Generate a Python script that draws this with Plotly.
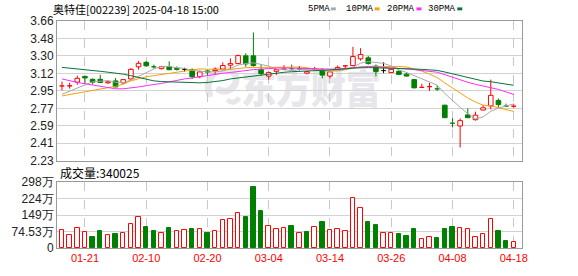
import base64
import plotly.graph_objects as go

# ---------------- data ----------------
dates = [
    "2025-01-16", "2025-01-17", "2025-01-20", "2025-01-21", "2025-01-22", "2025-01-23", "2025-01-24", "2025-01-27",
    "2025-02-05", "2025-02-06", "2025-02-07", "2025-02-10", "2025-02-11", "2025-02-12", "2025-02-13", "2025-02-14",
    "2025-02-17", "2025-02-18", "2025-02-19", "2025-02-20", "2025-02-21", "2025-02-24", "2025-02-25", "2025-02-26",
    "2025-02-27", "2025-02-28", "2025-03-03", "2025-03-04", "2025-03-05", "2025-03-06", "2025-03-07", "2025-03-10",
    "2025-03-11", "2025-03-12", "2025-03-13", "2025-03-14", "2025-03-17", "2025-03-18", "2025-03-19", "2025-03-20",
    "2025-03-21", "2025-03-24", "2025-03-25", "2025-03-26", "2025-03-27", "2025-03-28", "2025-03-31", "2025-04-01",
    "2025-04-02", "2025-04-03", "2025-04-07", "2025-04-08", "2025-04-09", "2025-04-10", "2025-04-11", "2025-04-14",
    "2025-04-15", "2025-04-16", "2025-04-17", "2025-04-18",
]
open_ = [2.995, 2.996, 3.034, 3.093, 3.063, 3.063, 3.027, 3.047, 3.027, 3.067,
         3.191, 3.237, 3.198, 3.172, 3.191, 3.175, 3.165, 3.162, 3.090, 3.149,
         3.152, 3.168, 3.208, 3.224, 3.303, 3.303, 3.165, 3.096, 3.145, 3.168,
         3.178, 3.172, 3.126, 3.168, 3.158, 3.096, 3.165, 3.201, 3.204, 3.273,
         3.283, 3.198, 3.152, 3.132, 3.145, 3.116, 3.060, 2.981, 2.988, 2.972,
         2.798, 2.621, 2.585, 2.699, 2.650, 2.749, 2.791, 2.847, 2.794, 2.788]
high = [3.040, 3.027, 3.100, 3.100, 3.073, 3.109, 3.047, 3.077, 3.067, 3.178,
        3.250, 3.250, 3.214, 3.201, 3.247, 3.195, 3.181, 3.175, 3.152, 3.162,
        3.185, 3.237, 3.277, 3.316, 3.329, 3.542, 3.214, 3.145, 3.162, 3.208,
        3.214, 3.198, 3.142, 3.191, 3.175, 3.145, 3.204, 3.204, 3.395, 3.382,
        3.303, 3.214, 3.237, 3.172, 3.155, 3.132, 3.063, 3.017, 3.027, 3.001,
        2.804, 2.663, 2.663, 2.765, 2.732, 2.801, 3.060, 2.867, 2.814, 2.811]
low = [2.949, 2.968, 3.008, 3.017, 3.011, 3.027, 3.017, 2.981, 3.014, 3.060,
       3.162, 3.191, 3.172, 3.165, 3.155, 3.152, 3.142, 3.067, 3.073, 3.100,
       3.113, 3.162, 3.165, 3.218, 3.191, 3.191, 3.100, 3.060, 3.106, 3.162,
       3.162, 3.155, 3.113, 3.152, 3.073, 3.073, 3.162, 3.165, 3.198, 3.254,
       3.214, 3.093, 3.126, 3.126, 3.106, 3.093, 2.975, 2.978, 2.945, 2.945,
       2.667, 2.571, 2.365, 2.667, 2.640, 2.745, 2.755, 2.778, 2.778, 2.771]
close = [3.000, 3.001, 3.073, 3.077, 3.034, 3.031, 3.037, 2.985, 3.060, 3.165,
         3.227, 3.201, 3.191, 3.192, 3.162, 3.165, 3.165, 3.090, 3.139, 3.137,
         3.168, 3.204, 3.224, 3.306, 3.221, 3.204, 3.122, 3.132, 3.162, 3.175,
         3.172, 3.172, 3.142, 3.172, 3.106, 3.139, 3.185, 3.204, 3.296, 3.316,
         3.224, 3.142, 3.152, 3.165, 3.113, 3.096, 2.975, 2.985, 2.995, 2.965,
         2.670, 2.614, 2.640, 2.670, 2.696, 2.772, 2.899, 2.804, 2.788, 2.794]
# volume in 万
volume = [80.0, 58.2, 88.7, 71.3, 50.9, 77.1, 58.2, 64.0, 66.9, 110.5,
          141.0, 94.5, 77.1, 66.9, 90.2, 75.6, 80.0, 85.8, 84.3, 68.3,
          75.6, 128.0, 132.3, 158.5, 138.1, 277.7, 168.7, 97.4, 84.3, 88.7,
          98.9, 66.9, 72.7, 93.1, 116.3, 80.0, 84.3, 75.6, 223.9, 180.3,
          116.3, 103.2, 66.9, 66.9, 64.0, 55.3, 85.8, 40.7, 49.4, 46.5,
          85.8, 94.5, 88.7, 84.3, 49.4, 62.5, 132.3, 77.1, 33.4, 27.6]

# moving-average values before enough history is in view
ma5_head = [2.91, 2.94, 2.97, 3.00]
ma10_head = [2.893, 2.906, 2.922, 2.939, 2.952, 2.962, 2.975, 2.991, 3.014]
ma20_head = [3.067, 3.047, 3.031, 3.018, 3.005, 2.990, 2.975, 2.966, 2.966, 2.972,
             2.985, 2.998, 3.008, 3.021, 3.037, 3.054, 3.067, 3.077, 3.090]
ma30_head = [3.185, 3.178, 3.172, 3.162, 3.152, 3.145, 3.136, 3.129, 3.116, 3.100,
             3.080, 3.063, 3.047, 3.040, 3.037, 3.031, 3.027, 3.027, 3.027, 3.031,
             3.037, 3.050, 3.067, 3.077, 3.086, 3.096, 3.109, 3.119, 3.126]

tick_dates = ["01-21", "02-10", "02-20", "03-04", "03-14", "03-26", "04-08", "04-18"]
price_ticks = ["3.66", "3.48", "3.30", "3.12", "2.95", "2.77", "2.59", "2.41", "2.23"]
price_min, price_max = 2.23, 3.66
vol_ticks = ["0", "74.53万", "149万", "224万", "298万"]
vol_max = 298.12
title_text = "奥特佳[002239] 2025-04-18 15:00"
vol_text = "成交量:340025"
ma_names = ["5PMA", "10PMA", "20PMA", "30PMA"]
ma_colors = ["#a8a8a8", "#f0a30a", "#ff2bff", "#08733a"]

RED = "#ff0000"
GREEN = "#008000"

# ---------------- helpers ----------------
n = len(dates)
xs = list(range(n))


def ma(vals, k, head):
    out = list(head)
    for i in range(k - 1, len(vals)):
        out.append(sum(vals[i - k + 1:i + 1]) / k)
    return out


mas = [ma(close, 5, ma5_head), ma(close, 10, ma10_head),
       ma(close, 20, ma20_head), ma(close, 30, ma30_head)]

W = 0.3
groups = {"up": ([], [], [], []), "dn": ([], [], [], []), "fl": ([], [], [], [])}
for i in xs:
    o, h, l, c = open_[i], high[i], low[i], close[i]
    top, bot = max(o, c), min(o, c)
    key = "up" if c > o else ("dn" if c < o else "fl")
    bx, by, wx, wy = groups[key]
    if key == "fl":
        bx += [i - W, i + W, None]
        by += [o, o, None]
        wx += [i, i, None]
        wy += [h, l, None]
    else:
        bx += [i - W, i + W, i + W, i - W, i - W, None]
        by += [bot, bot, top, top, bot, None]
        wx += [i, i, None, i, i, None]
        wy += [h, top, None, bot, l, None]

fig = go.Figure()

# wicks
for key, col in (("up", RED), ("dn", GREEN), ("fl", "#000000")):
    bx, by, wx, wy = groups[key]
    fig.add_trace(go.Scatter(x=wx, y=wy, mode="lines", line=dict(color=col, width=1),
                             hoverinfo="skip", showlegend=False, xaxis="x", yaxis="y"))
# bodies
bx, by, _, _ = groups["up"]
fig.add_trace(go.Scatter(x=bx, y=by, mode="lines", fill="toself", fillcolor="#ffffff",
                         line=dict(color=RED, width=1), hoverinfo="skip", showlegend=False))
bx, by, _, _ = groups["dn"]
fig.add_trace(go.Scatter(x=bx, y=by, mode="lines", fill="toself", fillcolor=GREEN,
                         line=dict(color=GREEN, width=1), hoverinfo="skip", showlegend=False))
bx, by, _, _ = groups["fl"]
fig.add_trace(go.Scatter(x=bx, y=by, mode="lines", line=dict(color="#000000", width=1),
                         hoverinfo="skip", showlegend=False))

# moving averages
for vals, col in zip(mas, ma_colors):
    fig.add_trace(go.Scatter(x=xs, y=vals, mode="lines", line=dict(color=col, width=1),
                             hoverinfo="skip", showlegend=False))

# volume
vol_up = [i == 0 or close[i] >= close[i - 1] for i in xs]
fig.add_trace(go.Bar(
    x=xs, y=volume, width=0.58, xaxis="x2", yaxis="y2",
    marker=dict(color=["#ffffff" if u else GREEN for u in vol_up],
                line=dict(color=[RED if u else GREEN for u in vol_up], width=1)),
    hoverinfo="skip", showlegend=False))

# ---------------- layout ----------------
L, R, T, B = 55, 56, 21, 21
FW, FH = 578, 276
PW, PH = FW - L - R, FH - T - B


def xp(px):
    return (px - L) / PW


def yp(py):
    return (FH - B - py) / PH


tick_idx = [[d[5:] for d in dates].index(t) for t in tick_dates]
step = (price_max - price_min) / (len(price_ticks) - 1)
price_vals = [price_max - k * step for k in range(len(price_ticks))]
vol_vals = [vol_max * k / (len(vol_ticks) - 1) for k in range(len(vol_ticks))]

xrange_ = [-0.65, 60.08]
axis_common = dict(showline=True, mirror=True, linecolor="#9a9a9a", linewidth=1, zeroline=False,
                   ticks="", fixedrange=True)

fig.update_layout(
    width=FW, height=FH, margin=dict(l=L, r=R, t=T, b=B),
    paper_bgcolor="#ffffff", plot_bgcolor="rgba(0,0,0,0)",
    showlegend=False, bargap=0,
    xaxis=dict(domain=[0, 1], anchor="y", range=xrange_, tickvals=tick_idx, showticklabels=False,
               showgrid=True, gridcolor="#c8c8c8", griddash="dash", gridwidth=1, **axis_common),
    yaxis=dict(domain=[yp(165), 1], anchor="x", range=[price_min, price_max], tickvals=price_vals,
               ticktext=price_ticks, showgrid=True, gridcolor="#d2d2d2", gridwidth=1,
               tickfont=dict(family="Liberation Sans", size=12, color="#222222"), **axis_common),
    xaxis2=dict(domain=[0, 1], anchor="y2", range=xrange_, matches="x", tickvals=tick_idx,
                ticktext=tick_dates, showgrid=True, gridcolor="#c8c8c8", griddash="dash", gridwidth=1,
                tickfont=dict(family="Liberation Sans", size=11, color=RED), **axis_common),
    yaxis2=dict(domain=[0, yp(187)], anchor="x2", range=[0, vol_max], tickvals=vol_vals,
                ticktext=vol_ticks, showgrid=True, gridcolor="#d2d2d2", gridwidth=1,
                tickfont=dict(family="Liberation Sans", size=12, color="#222222"), **axis_common),
)

# watermark
svg = ('<svg xmlns="http://www.w3.org/2000/svg" width="190" height="50" viewBox="0 0 190 50">'
       '<path d="M8 34 C 2 16, 20 2, 32 12 C 40 20, 30 36, 18 30" fill="none" stroke="#e6e6eb" '
       'stroke-width="7" stroke-linecap="round"/>'
       '<path d="M26 40 C 30 44, 34 44, 38 38" fill="none" stroke="#e6e6eb" stroke-width="5"/>'
       '<text x="40" y="44" font-family="Noto Sans CJK SC" font-weight="900" font-size="40" '
       'fill="#e6e6eb" textLength="140" lengthAdjust="spacingAndGlyphs">东方财富</text></svg>')
src = "data:image/svg+xml;base64," + base64.b64encode(svg.encode("utf-8")).decode("ascii")
fig.add_layout_image(dict(source=src, xref="paper", yref="paper", x=xp(200), y=yp(62),
                          sizex=190 / PW, sizey=50 / PH, xanchor="left", yanchor="top",
                          sizing="stretch", layer="below"))

# header texts
fig.add_annotation(text=title_text, xref="paper", yref="paper", x=xp(49), y=yp(9),
                   xanchor="left", yanchor="middle", showarrow=False,
                   font=dict(family="Noto Sans CJK SC", size=11, color="#000000"))
fig.add_annotation(text=vol_text, xref="paper", yref="paper", x=xp(56), y=yp(177),
                   xanchor="left", yanchor="middle", showarrow=False,
                   font=dict(family="Noto Sans CJK SC", size=12, color="#000000"))

legend_x = [305, 343, 384, 426]
square_x = [330, 374, 416, 457]
for name, col, lx, sx in zip(ma_names, ma_colors, legend_x, square_x):
    fig.add_annotation(text=name, xref="paper", yref="paper", x=xp(lx), y=yp(9),
                       xanchor="left", yanchor="middle", showarrow=False,
                       font=dict(family="Liberation Mono", size=9, color="#000000"))
    fig.add_shape(type="rect", xref="paper", yref="paper", x0=xp(sx), x1=xp(sx + 5),
                  y0=yp(10), y1=yp(7), fillcolor=col, line=dict(width=0))

fig.write_html("out.html")
